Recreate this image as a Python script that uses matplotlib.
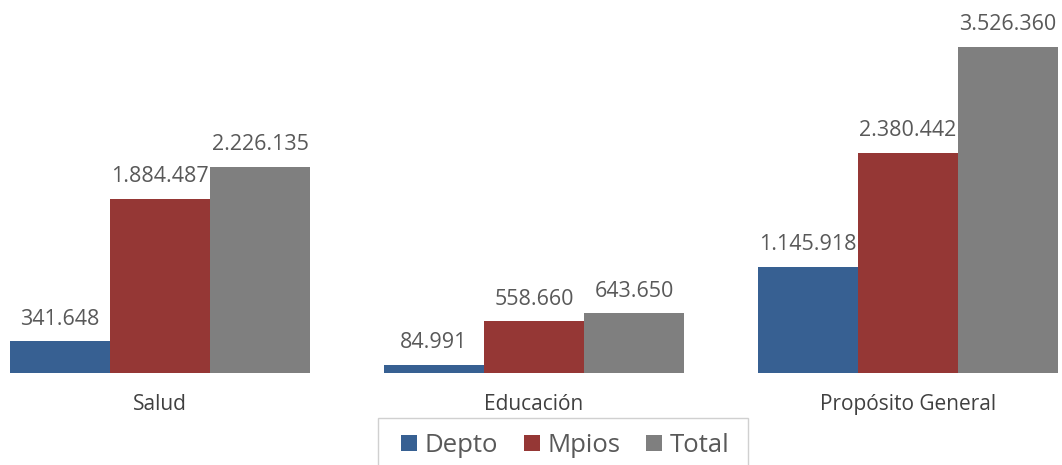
import numpy as np
import matplotlib.pyplot as plt
from matplotlib.patches import Rectangle

plt.rcParams['font.family'] = ['Open Sans', 'DejaVu Sans']

categories = ['Salud', 'Educación', 'Propósito General']
series = ['Depto', 'Mpios', 'Total']
depto = [341648, 84991, 1145918]
mpios = [1884487, 558660, 2380442]
total = [2226135, 643650, 3526360]
colors = ['#376092', '#953735', '#7f7f7f']


def fmt(v):
    return f'{v:,}'.replace(',', '.')


W, H = 1062, 465
fig = plt.figure(figsize=(W / 100, H / 100), dpi=100)
ax = fig.add_axes([0, (H - 373) / H, 1, 373 / H])

x = np.arange(len(categories))
w = 0.268
for i, (name, vals) in enumerate(zip(series, [depto, mpios, total])):
    pos = x + (i - 1) * w
    ax.bar(pos, vals, width=w, color=colors[i], label=name, linewidth=0)
    for p, v in zip(pos, vals):
        ax.annotate(fmt(v), (p, v), xytext=(0, 8.5), textcoords='offset points',
                    ha='center', va='bottom', fontsize=15.5, color='#595959')

px = 373.7
ax.set_xlim(-1.5 * w - 10 / px, 2 + 1.5 * w + 4 / px)
ax.set_ylim(0, 3526360 * 373 / 326)
ax.set_xticks(x)
ax.set_xticklabels(categories, fontsize=15, color='#404040')
ax.tick_params(axis='x', length=0, pad=15)
ax.set_yticks([])
for s in ax.spines.values():
    s.set_visible(False)

# legend box (cut off at the bottom edge, as in the source)
fig.patches.append(Rectangle((378 / W, -0.05), 370 / W, 0.05 + 1 - 418 / H,
                             transform=fig.transFigure, fill=False,
                             edgecolor='#d0d0d0', linewidth=1.0))
fig.legend(loc='upper left', bbox_to_anchor=(401 / W, 1 - 433 / H),
           ncol=3, fontsize=18.5, frameon=False,
           handlelength=0.62, handleheight=0.58,
           handletextpad=0.3, columnspacing=1.0, borderpad=0,
           borderaxespad=0, labelcolor='#595959')

fig.savefig('out.png', dpi=100)
